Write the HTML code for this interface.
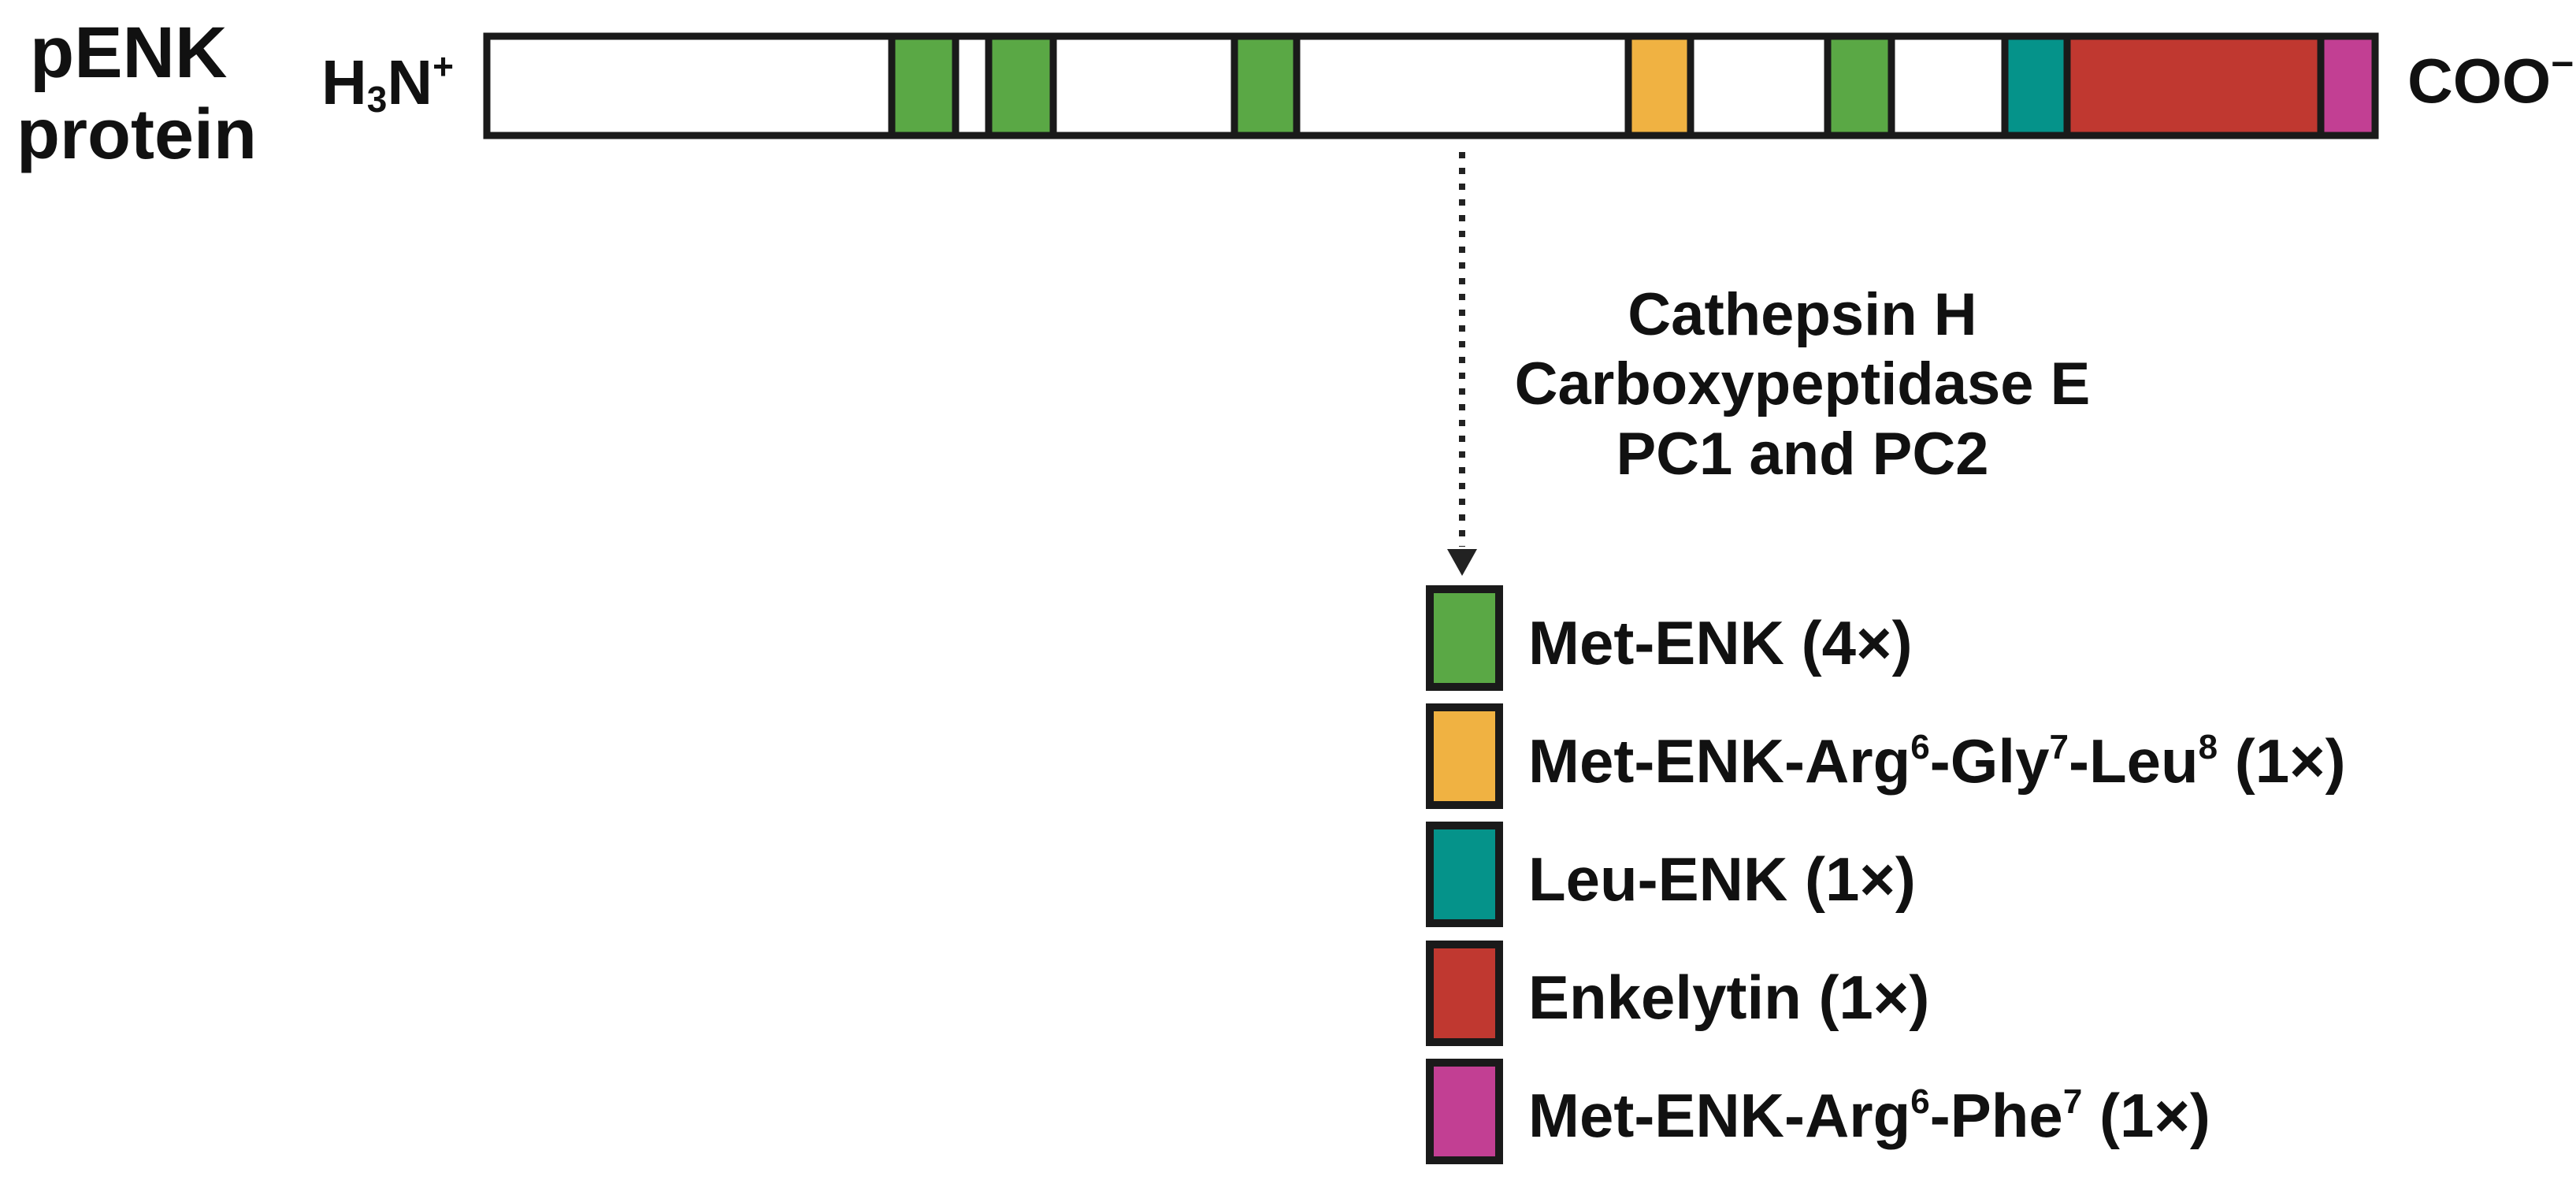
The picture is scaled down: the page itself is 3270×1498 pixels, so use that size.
<!DOCTYPE html>
<html><head><meta charset="utf-8"><style>
html,body{margin:0;padding:0;background:#fff;}
svg{display:block;}
text{font-family:"Liberation Sans",Arial,sans-serif;font-weight:bold;fill:#111;}
</style></head><body>
<svg width="3270" height="1498" viewBox="0 0 3270 1498" xmlns="http://www.w3.org/2000/svg">
<rect width="3270" height="1498" fill="#fff"/>
<!-- labels -->
<text x="38" y="98" font-size="92">pENK</text>
<text x="21" y="201" font-size="90">protein</text>
<text x="408" y="132" font-size="80">H<tspan font-size="46" dy="10">3</tspan><tspan dy="-10">N</tspan><tspan font-size="46" dy="-32">+</tspan></text>
<text x="3056" y="130" font-size="80">COO<tspan font-size="50" dy="-32">−</tspan></text>
<!-- bar fills -->
<rect x="615" y="43" width="2403" height="132" fill="#fff"/>
<rect x="1132" y="43" width="81" height="132" fill="#5aa845"/>
<rect x="1255" y="43" width="82" height="132" fill="#5aa845"/>
<rect x="1567" y="43" width="79" height="132" fill="#5aa845"/>
<rect x="2067" y="43" width="79" height="132" fill="#f0b242"/>
<rect x="2320" y="43" width="81" height="132" fill="#5aa845"/>
<rect x="2545" y="43" width="79" height="132" fill="#05938a"/>
<rect x="2624" y="43" width="322" height="132" fill="#c03830"/>
<rect x="2946" y="43" width="70" height="132" fill="#c23f93"/>
<g stroke="#1a1a1a" stroke-width="9">
<line x1="1132" y1="43" x2="1132" y2="175"/><line x1="1213" y1="43" x2="1213" y2="175"/>
<line x1="1255" y1="43" x2="1255" y2="175"/><line x1="1337" y1="43" x2="1337" y2="175"/>
<line x1="1567" y1="43" x2="1567" y2="175"/><line x1="1646" y1="43" x2="1646" y2="175"/>
<line x1="2067" y1="43" x2="2067" y2="175"/><line x1="2146" y1="43" x2="2146" y2="175"/>
<line x1="2320" y1="43" x2="2320" y2="175"/><line x1="2401" y1="43" x2="2401" y2="175"/>
<line x1="2545" y1="43" x2="2545" y2="175"/><line x1="2624" y1="43" x2="2624" y2="175"/>
<line x1="2946" y1="43" x2="2946" y2="175"/>
</g>
<rect x="618" y="46" width="2397" height="126" fill="none" stroke="#1a1a1a" stroke-width="9"/>
<!-- dotted arrow -->
<line x1="1856" y1="193" x2="1856" y2="694" stroke="#222" stroke-width="8" stroke-dasharray="8 12"/>
<polygon points="1837,697 1875,697 1856,731" fill="#222"/>
<!-- enzymes -->
<text x="2288" y="425" font-size="76" text-anchor="middle">Cathepsin H</text>
<text x="2288" y="513" font-size="76" text-anchor="middle">Carboxypeptidase E</text>
<text x="2288" y="602" font-size="76" text-anchor="middle">PC1 and PC2</text>
<!-- legend squares -->
<g stroke="#1a1a1a" stroke-width="10">
<rect x="1815" y="748" width="88" height="124" fill="#5aa845"/>
<rect x="1815" y="898" width="88" height="124" fill="#f0b242"/>
<rect x="1815" y="1048" width="88" height="124" fill="#05938a"/>
<rect x="1815" y="1199" width="88" height="124" fill="#c03830"/>
<rect x="1815" y="1349" width="88" height="124" fill="#c23f93"/>
</g>
<text x="1940" y="843" font-size="78">Met-ENK (4×)</text>
<text x="1940" y="993" font-size="78">Met-ENK-Arg<tspan font-size="44" dy="-30">6</tspan><tspan dy="30">-Gly</tspan><tspan font-size="44" dy="-30">7</tspan><tspan dy="30">-Leu</tspan><tspan font-size="44" dy="-30">8</tspan><tspan dy="30"> (1×)</tspan></text>
<text x="1940" y="1143" font-size="78">Leu-ENK (1×)</text>
<text x="1940" y="1293" font-size="78">Enkelytin (1×)</text>
<text x="1940" y="1443" font-size="78">Met-ENK-Arg<tspan font-size="44" dy="-30">6</tspan><tspan dy="30">-Phe</tspan><tspan font-size="44" dy="-30">7</tspan><tspan dy="30"> (1×)</tspan></text>
</svg>
</body></html>
